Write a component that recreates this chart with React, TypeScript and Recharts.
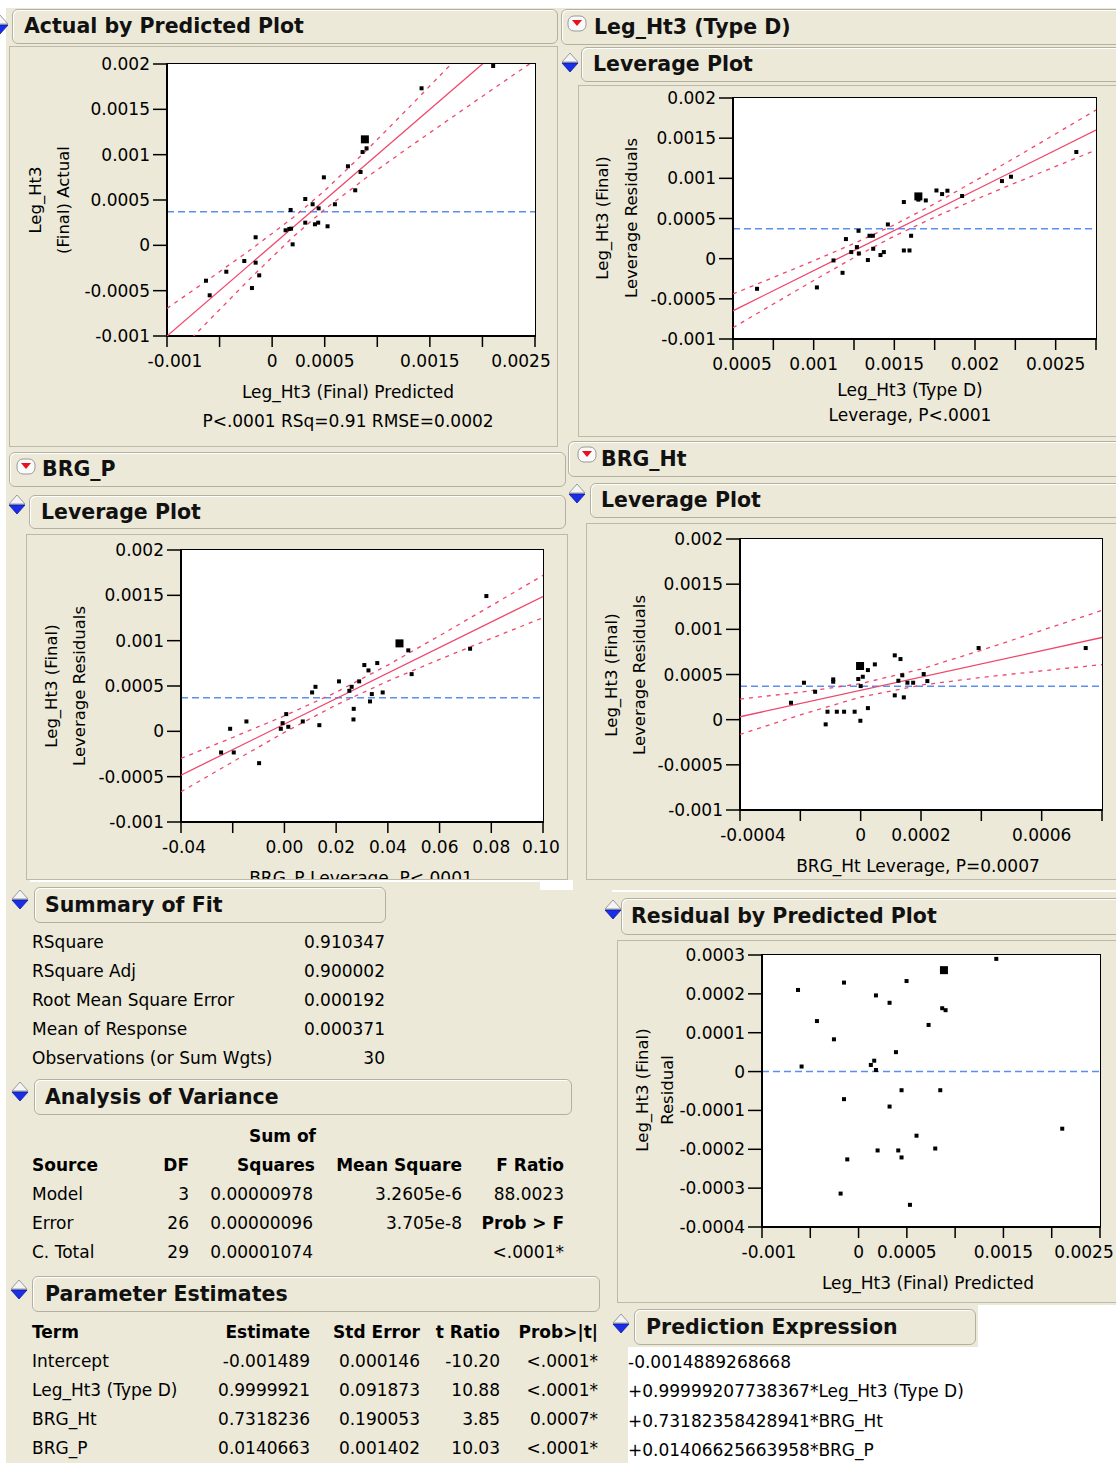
import React from 'react';
import { ScatterChart, Scatter, XAxis, YAxis, ReferenceLine } from 'recharts';

const BEIGE = '#ECE9D8';
const RED = '#f0466a';
const BLUE = '#5a8ef0';
const FONT = '"DejaVu Sans", Verdana, sans-serif';
const MEAN_RESPONSE = 0.000371;

// ---------- Actual by Predicted ----------
const actualPredPoints = [
  [0.002102, 0.001978], [0.001421, 0.001732], [0.00086, 0.001029], [0.000898, 0.00107],
  [0.000721, 0.000872], [0.000841, 0.000809], [0.00079, 0.000607], [0.000492, 0.00075],
  [0.000315, 0.000511], [0.000385, 0.000453], [0.000442, 0.000408], [0.000597, 0.000453],
  [0.000176, 0.00039], [0.000315, 0.00025], [0.000407, 0.000232], [0.000438, 0.00025],
  [0.000527, 0.00021], [0.000128, 0.000166], [0.000163, 0.00018], [0.00018, 0.000184],
  [0.000195, 0.000011], [-0.000157, 0.000089], [-0.000265, -0.000173], [-0.000157, -0.000191],
  [-0.000123, -0.000331], [-0.000192, -0.000471], [-0.000436, -0.000291], [-0.000629, -0.00039],
  [-0.000594, -0.000551],
];
const actualPredHighlight = [[0.000882, 0.001169]];
const actualPredFit = [[-0.001, -0.001], [0.0025, 0.0025]];
const actualPredBandX = [-0.001, -0.0006, -0.0002, 0.0002, 0.0005, 0.0009, 0.0013, 0.0017, 0.0021, 0.0025];
const actualPredUpper = [-0.000696, -0.000373, -0.000044, 0.000306, 0.000603, 0.00105, 0.001519, 0.001997, 0.002476, 0.002958];
const actualPredLower = [-0.001304, -0.000827, -0.000356, 0.000094, 0.000397, 0.00075, 0.001081, 0.001403, 0.001724, 0.002042];

// ---------- Leg_Ht3 (Type D) leverage ----------
const typeDPoints = [
  [0.000649, -0.000375], [0.00102, -0.000358], [0.001123, -0.000022], [0.001179, -0.000176],
  [0.0012, 0.000244], [0.001233, 0.000082], [0.001268, 0.000144], [0.001278, 0.000347],
  [0.00128, 0.000065], [0.001336, -0.000017], [0.001346, 0.000285], [0.001367, 0.000285],
  [0.001369, 0.000123], [0.001414, 0.000045], [0.001435, 0.000082], [0.00146, 0.000426],
  [0.001559, 0.000705], [0.001559, 0.000102], [0.001594, 0.000102], [0.001604, 0.000285],
  [0.001649, 0.000735], [0.001695, 0.000725], [0.001761, 0.000849], [0.001796, 0.000804],
  [0.001829, 0.000846], [0.00192, 0.00078], [0.002167, 0.000966], [0.002223, 0.00102],
  [0.002628, 0.001328],
];
const typeDHighlight = [[0.001649, 0.000775]];
const typeDFit = [[0.0005, -0.000649], [0.00275, 0.001601]];
const typeDBandX = [0.0005, 0.00075, 0.001, 0.00125, 0.0015, 0.00175, 0.002, 0.00225, 0.0025, 0.00275];
const typeDUpper = [-0.000439, -0.000234, -0.000026, 0.000189, 0.000421, 0.000684, 0.000968, 0.001259, 0.001554, 0.00185];
const typeDLower = [-0.000859, -0.000564, -0.000272, 0.000014, 0.000281, 0.000518, 0.000734, 0.000943, 0.001148, 0.001352];

// ---------- BRG_P leverage ----------
const brgPPoints = [
  [-0.0245, -0.000233], [-0.0196, -0.000233], [-0.021, 0.000028], [-0.0147, 0.000109],
  [-0.0098, -0.000351], [-0.0014, 0.000028], [-0.0007, 0.00009], [0.0007, 0.00019],
  [0.0015, 0.00005], [0.0071, 0.000109], [0.0107, 0.000429], [0.012, 0.000491],
  [0.0135, 0.000068], [0.0211, 0.000551], [0.0251, 0.000447], [0.026, 0.000491],
  [0.0268, 0.000248], [0.0267, 0.000131], [0.0289, 0.000551], [0.0309, 0.000731],
  [0.0325, 0.000672], [0.0338, 0.000411], [0.0331, 0.00033], [0.0359, 0.000753],
  [0.038, 0.000429], [0.0479, 0.000893], [0.0492, 0.000631], [0.0718, 0.000911],
  [0.0781, 0.001492],
];
const brgPHighlight = [[0.0445, 0.00097]];
const brgPFit = [[-0.04, -0.000483], [0.1, 0.001487]];
const brgPBandX = [-0.04, -0.02, 0, 0.02, 0.04, 0.06, 0.08, 0.1];
const brgPUpper = [-0.000299, -0.000068, 0.000171, 0.000431, 0.000731, 0.001055, 0.001386, 0.00172];
const brgPLower = [-0.000667, -0.000336, -0.000011, 0.000291, 0.000554, 0.000793, 0.001025, 0.001254];

// ---------- BRG_Ht leverage ----------
const brgHtPoints = [
  [-0.000231, 0.000187], [-0.000188, 0.000409], [-0.000151, 0.000309], [-0.000116, -0.000052],
  [-0.00011, 0.000088], [-0.000091, 0.000446], [-0.000091, 0.00042], [-0.000079, 0.000088],
  [-0.000055, 0.000088], [-0.00002, 0.000088], [-0.000008, 0.00045], [0.0, 0.000372],
  [-0.000001, -0.000012], [0.000007, 0.000475], [0.000024, 0.000549], [0.000024, 0.000128],
  [0.000047, 0.000612], [0.000113, 0.000712], [0.000132, 0.000671], [0.000113, 0.000269],
  [0.000138, 0.000491], [0.000125, 0.000431], [0.000143, 0.000247], [0.000155, 0.000409],
  [0.000174, 0.000409], [0.000209, 0.000505], [0.000221, 0.000427], [0.000391, 0.000793],
  [0.000746, 0.000793],
];
const brgHtHighlight = [[-0.000002, 0.000594]];
const brgHtFit = [[-0.0004, 0.0000322], [0.0008, 0.00091]];
const brgHtBandX = [-0.0004, -0.0002, 0, 0.0002, 0.0004, 0.0006, 0.0008];
const brgHtUpper = [0.000228, 0.000304, 0.000399, 0.00056, 0.000768, 0.000988, 0.00121];
const brgHtLower = [-0.000164, 0.000053, 0.000251, 0.000383, 0.000467, 0.00054, 0.00061];

// ---------- Residual by Predicted ----------
const residualPoints = [
  [-0.000627, 0.00021], [-0.00059, 0.000013], [-0.000431, 0.00013], [-0.000255, 0.000083],
  [-0.000151, 0.000229], [-0.000151, -0.000071], [-0.000186, -0.000314], [-0.000117, -0.000226],
  [0.000127, 0.000017], [0.000162, 0.000028], [0.00018, 0.000004], [0.00018, 0.000196],
  [0.000197, -0.000203], [0.000321, 0.000177], [0.000321, -0.00009], [0.000387, 0.00005],
  [0.000411, -0.000203], [0.000445, -0.000048], [0.000445, -0.000221], [0.000497, 0.000233],
  [0.000532, -0.000343], [0.0006, -0.000165], [0.000725, 0.00012], [0.000794, -0.000198],
  [0.000846, -0.000048], [0.000866, 0.000163], [0.000901, 0.000158], [0.001426, 0.00029],
  [0.002109, -0.000147],
];
const residualHighlight = [[0.000884, 0.000261]];

// ---------- ticks ----------
const predXTicks = [-0.001, -0.0005, 0, 0.0005, 0.001, 0.0015, 0.002, 0.0025];
const predXLabels = ['-0.001', '', '0', '0.0005', '', '0.0015', '', '0.0025'];
const respYTicks = [-0.001, -0.0005, 0, 0.0005, 0.001, 0.0015, 0.002];
const respYLabels = ['-0.001', '-0.0005', '0', '0.0005', '0.001', '0.0015', '0.002'];
const typeDXTicks = [0.0005, 0.00075, 0.001, 0.00125, 0.0015, 0.00175, 0.002, 0.00225, 0.0025, 0.00275];
const typeDXLabels = ['0.0005', '', '0.001', '', '0.0015', '', '0.002', '', '0.0025', ''];
const brgPXTicks = [-0.04, -0.02, 0, 0.02, 0.04, 0.06, 0.08, 0.1];
const brgPXLabels = ['-0.04', '', '0.00', '0.02', '0.04', '0.06', '0.08', '0.10'];
const brgHtXTicks = [-0.0004, -0.0002, 0, 0.0002, 0.0004, 0.0006, 0.0008];
const brgHtXLabels = ['-0.0004', '', '0', '0.0002', '', '0.0006', ''];
const residYTicks = [-0.0004, -0.0003, -0.0002, -0.0001, 0, 0.0001, 0.0002, 0.0003];
const residYLabels = ['-0.0004', '-0.0003', '-0.0002', '-0.0001', '0', '0.0001', '0.0002', '0.0003'];

// ---------- tables ----------
const summaryLabels = ['RSquare', 'RSquare Adj', 'Root Mean Square Error', 'Mean of Response', 'Observations (or Sum Wgts)'];
const summaryValues = ['0.910347', '0.900002', '0.000192', '0.000371', '30'];
const anovaSources = ['Model', 'Error', 'C. Total'];
const anovaDF = ['3', '26', '29'];
const anovaSS = ['0.00000978', '0.00000096', '0.00001074'];
const anovaMS = ['3.2605e-6', '3.705e-8', ''];
const anovaF = ['88.0023', 'Prob > F', '<.0001*'];
const paramTerms = ['Intercept', 'Leg_Ht3 (Type D)', 'BRG_Ht', 'BRG_P'];
const paramEstimate = ['-0.001489', '0.9999921', '0.7318236', '0.0140663'];
const paramStdErr = ['0.000146', '0.091873', '0.190053', '0.001402'];
const paramTRatio = ['-10.20', '10.88', '3.85', '10.03'];
const paramProb = ['<.0001*', '<.0001*', '0.0007*', '<.0001*'];
const predictionLines = ['-0.0014889268668', '+0.99999207738367*Leg_Ht3 (Type D)', '+0.73182358428941*BRG_Ht', '+0.01406625663958*BRG_P'];

const toPts = (a: number[][]) => a.map(([x, y]) => ({ x, y }));
const zipPts = (xs: number[], ys: number[]) => xs.map((x, i) => ({ x, y: ys[i] }));

const findIdx = (ticks: number[], v: number) => ticks.findIndex((t) => Math.abs(t - v) < 1e-12);

const makeXTick = (ticks: number[], labels: string[], shift: number, lastShift: number) => (p: any) => {
  const i = findIdx(ticks, p.payload.value);
  const dx = i === 0 ? shift : i === ticks.length - 1 ? lastShift : 0;
  return (
    <text x={p.x + dx} y={p.y} dy="0.71em" textAnchor="middle" fontFamily={FONT} fontSize={17} fill="#000">
      {i >= 0 ? labels[i] : ''}
    </text>
  );
};
const makeYTick = (ticks: number[], labels: string[]) => (p: any) => {
  const i = findIdx(ticks, p.payload.value);
  return (
    <text x={p.x} y={p.y} dy="0.355em" textAnchor="end" fontFamily={FONT} fontSize={17} fill="#000">
      {i >= 0 ? labels[i] : ''}
    </text>
  );
};

const dot = (p: any) => <rect x={p.cx - 2} y={p.cy - 2} width={4} height={4} fill="#000" />;
const bigDot = (p: any) => <rect x={p.cx - 4} y={p.cy - 4} width={8} height={8} fill="#000" />;
const noDot = () => <g />;

function Plot(props: any) {
  const { L, T, W, H, xDomain, yDomain, xTicks, xLabels, yTicks, yLabels, points, highlight, fit, upper, lower, refY, shift, lastShift = 0 } = props;
  const YW = 130, XH = 40, PAD = 10, RPAD = 40;
  return (
    <>
      <div style={{ position: 'absolute', left: L - 1, top: T - 1, width: W + 2, height: H + 2, boxSizing: 'border-box', background: '#fff', border: '1.5px solid #000' }} />
      <div style={{ position: 'absolute', left: L - YW, top: T - PAD }}>
        <ScatterChart width={W + YW + RPAD} height={H + PAD + XH} margin={{ top: PAD, right: RPAD, bottom: 0, left: 0 }}>
          <XAxis type="number" dataKey="x" domain={xDomain} ticks={xTicks} interval={0} allowDataOverflow height={XH}
            tickSize={11} tickMargin={8} axisLine={{ stroke: '#000', strokeWidth: 2 }} tickLine={{ stroke: '#000', strokeWidth: 1.5 }}
            tick={makeXTick(xTicks, xLabels, shift, lastShift)} />
          <YAxis type="number" dataKey="y" domain={yDomain} ticks={yTicks} interval={0} allowDataOverflow width={YW}
            tickSize={14} tickMargin={3} axisLine={{ stroke: '#000', strokeWidth: 2 }} tickLine={{ stroke: '#000', strokeWidth: 1.5 }}
            tick={makeYTick(yTicks, yLabels)} />
          <ReferenceLine y={refY} stroke={BLUE} strokeWidth={1.5} strokeDasharray="7 4" />
          {fit && <Scatter data={fit} line={{ stroke: RED, strokeWidth: 1.3 }} shape={noDot} isAnimationActive={false} />}
          {upper && <Scatter data={upper} line={{ stroke: RED, strokeWidth: 1.3, strokeDasharray: '4 5' }} shape={noDot} isAnimationActive={false} />}
          {lower && <Scatter data={lower} line={{ stroke: RED, strokeWidth: 1.3, strokeDasharray: '4 5' }} shape={noDot} isAnimationActive={false} />}
          <Scatter data={points} shape={dot} isAnimationActive={false} />
          <Scatter data={highlight} shape={bigDot} isAnimationActive={false} />
        </ScatterChart>
      </div>
    </>
  );
}

function Txt({ x, y, text, align = 'left', bold = false, size = 17 }: any) {
  const w = 600;
  const left = align === 'left' ? x : align === 'right' ? x - w : x - w / 2;
  return (
    <div style={{ position: 'absolute', left, top: y - 12, width: w, height: 24, lineHeight: '24px', textAlign: align, fontFamily: FONT, fontSize: size, fontWeight: bold ? 'bold' : 'normal', color: '#000', whiteSpace: 'nowrap' }}>
      {text}
    </div>
  );
}

function VTxt({ x, y, text, size = 16.5 }: any) {
  return (
    <div style={{ position: 'absolute', left: x, top: y, transform: 'translate(-50%, -50%) rotate(-90deg)', fontFamily: FONT, fontSize: size, color: '#000', whiteSpace: 'nowrap', lineHeight: '20px' }}>
      {text}
    </div>
  );
}

function BlueIcon({ x, y }: any) {
  return (
    <svg style={{ position: 'absolute', left: x, top: y }} width={18} height={22}>
      <polygon points="9,1 1,10 17,10" fill="#f4f4f4" stroke="#9a9a9a" strokeWidth={1} />
      <polygon points="1,11 17,11 9,20" fill="#1a2ee8" stroke="#0a1aa0" strokeWidth={0.8} />
    </svg>
  );
}

function RedIcon({ x, y }: any) {
  return (
    <svg style={{ position: 'absolute', left: x, top: y }} width={20} height={18}>
      <rect x={1} y={1} width={18} height={15} rx={6} fill="#fafafa" stroke="#9a9a9a" />
      <polygon points="5,5 15,5 10,11" fill="#e8101a" />
    </svg>
  );
}

function Header({ x, y, w, h, text, tx }: any) {
  return (
    <div style={{ position: 'absolute', left: x, top: y, width: w, height: h, boxSizing: 'border-box', border: '1px solid #b4b0a0', borderRadius: 6, background: BEIGE, boxShadow: 'inset 1px 1px 0 #fff' }}>
      <span style={{ position: 'absolute', left: tx - x, top: 0, lineHeight: `${h - 2}px`, fontFamily: FONT, fontSize: 20.5, fontWeight: 'bold', color: '#111', whiteSpace: 'nowrap' }}>
        {text}
      </span>
    </div>
  );
}

function Frame({ x, y, w, h, children, clip = false }: any) {
  return (
    <div style={{ position: 'absolute', left: x, top: y, width: w, height: h, boxSizing: 'border-box', border: '1px solid #bdb9a9', overflow: clip ? 'hidden' : 'visible' }}>
      {children}
    </div>
  );
}

function White({ x, y, w, h }: any) {
  return <div style={{ position: 'absolute', left: x, top: y, width: w, height: h, background: '#fff' }} />;
}

export default function App() {
  const rowY = [942, 971, 1000, 1029, 1058];
  const anovaY = [1194, 1223, 1252];
  const paramY = [1361, 1390, 1419, 1448];
  const predY = [1362, 1391, 1421, 1450];
  return (
    <div style={{ position: 'absolute', left: 0, top: 0, width: 1116, height: 1463, background: BEIGE, overflow: 'hidden', fontFamily: FONT }}>
      <White x={0} y={0} w={1116} h={8} />
      <White x={0} y={0} w={6} h={1463} />
      <White x={628} y={1347} w={488} h={116} />
      <White x={978} y={1305} w={138} h={42} />
      <White x={30} y={880} w={542} h={2} />
      <White x={540} y={880} w={33} h={10} />
      <White x={612} y={890} w={504} h={2} />

      {/* Actual by Predicted */}
      <BlueIcon x={-9} y={14} />
      <Header x={12} y={9} w={546} h={35} text="Actual by Predicted Plot" tx={23} />
      <Frame x={9} y={46} w={549} h={401} />
      <Plot L={167} T={64} W={368} H={272} xDomain={[-0.001, 0.0025]} yDomain={[-0.001, 0.002]}
        xTicks={predXTicks} xLabels={predXLabels} yTicks={respYTicks} yLabels={respYLabels}
        points={toPts(actualPredPoints)} highlight={toPts(actualPredHighlight)} fit={toPts(actualPredFit)}
        upper={zipPts(actualPredBandX, actualPredUpper)} lower={zipPts(actualPredBandX, actualPredLower)} refY={MEAN_RESPONSE} shift={8} lastShift={-14} />
      <VTxt x={36} y={200} text="Leg_Ht3" />
      <VTxt x={64} y={200} text="(Final) Actual" />
      <Txt x={348} y={392} text="Leg_Ht3 (Final) Predicted" align="center" />
      <Txt x={348} y={421} text="P<.0001 RSq=0.91 RMSE=0.0002" align="center" />

      {/* Leg_Ht3 (Type D) */}
      <Header x={561} y={9} w={570} h={36} text="Leg_Ht3 (Type D)" tx={593} />
      <RedIcon x={567} y={15} />
      <BlueIcon x={561} y={52} />
      <Header x={581} y={47} w={550} h={35} text="Leverage Plot" tx={592} />
      <Frame x={578} y={85} w={545} h={352} />
      <Plot L={733} T={98} W={363} H={241} xDomain={[0.0005, 0.00275]} yDomain={[-0.001, 0.002]}
        xTicks={typeDXTicks} xLabels={typeDXLabels} yTicks={respYTicks} yLabels={respYLabels}
        points={toPts(typeDPoints)} highlight={toPts(typeDHighlight)} fit={toPts(typeDFit)}
        upper={zipPts(typeDBandX, typeDUpper)} lower={zipPts(typeDBandX, typeDLower)} refY={MEAN_RESPONSE} shift={9} />
      <VTxt x={603} y={218} text="Leg_Ht3 (Final)" />
      <VTxt x={632} y={218} text="Leverage Residuals" />
      <Txt x={910} y={390} text="Leg_Ht3 (Type D)" align="center" />
      <Txt x={910} y={415} text="Leverage, P<.0001" align="center" />

      {/* BRG_P */}
      <Header x={9} y={452} w={557} h={35} text="BRG_P" tx={41} />
      <RedIcon x={16} y={458} />
      <BlueIcon x={8} y={494} />
      <Header x={29} y={495} w={537} h={34} text="Leverage Plot" tx={40} />
      <Frame x={26} y={534} w={542} h={346} clip>
        <Txt x={334} y={343} text="BRG_P Leverage, P<.0001" align="center" />
      </Frame>
      <Plot L={181} T={550} W={362} H={272} xDomain={[-0.04, 0.1]} yDomain={[-0.001, 0.002]}
        xTicks={brgPXTicks} xLabels={brgPXLabels} yTicks={respYTicks} yLabels={respYLabels}
        points={toPts(brgPPoints)} highlight={toPts(brgPHighlight)} fit={toPts(brgPFit)}
        upper={zipPts(brgPBandX, brgPUpper)} lower={zipPts(brgPBandX, brgPLower)} refY={MEAN_RESPONSE} shift={3} lastShift={-2} />
      <VTxt x={52} y={686} text="Leg_Ht3 (Final)" />
      <VTxt x={80} y={686} text="Leverage Residuals" />

      {/* BRG_Ht */}
      <Header x={568} y={441} w={560} h={36} text="BRG_Ht" tx={600} />
      <RedIcon x={577} y={446} />
      <BlueIcon x={568} y={483} />
      <Header x={590} y={483} w={540} h={35} text="Leverage Plot" tx={600} />
      <Frame x={586} y={523} w={540} h={357} />
      <Plot L={740} T={539} W={362} H={271} xDomain={[-0.0004, 0.0008]} yDomain={[-0.001, 0.002]}
        xTicks={brgHtXTicks} xLabels={brgHtXLabels} yTicks={respYTicks} yLabels={respYLabels}
        points={toPts(brgHtPoints)} highlight={toPts(brgHtHighlight)} fit={toPts(brgHtFit)}
        upper={zipPts(brgHtBandX, brgHtUpper)} lower={zipPts(brgHtBandX, brgHtLower)} refY={MEAN_RESPONSE} shift={13} />
      <VTxt x={612} y={675} text="Leg_Ht3 (Final)" />
      <VTxt x={640} y={675} text="Leverage Residuals" />
      <Txt x={918} y={866} text="BRG_Ht Leverage, P=0.0007" align="center" />

      {/* Summary of Fit */}
      <BlueIcon x={11} y={889} />
      <Header x={34} y={887} w={352} h={36} text="Summary of Fit" tx={44} />
      {summaryLabels.map((s, i) => <Txt key={'sl' + i} x={32} y={rowY[i]} text={s} />)}
      {summaryValues.map((s, i) => <Txt key={'sv' + i} x={385} y={rowY[i]} text={s} align="right" />)}

      {/* Analysis of Variance */}
      <BlueIcon x={11} y={1081} />
      <Header x={34} y={1079} w={538} h={36} text="Analysis of Variance" tx={44} />
      <Txt x={316} y={1136} text="Sum of" align="right" bold />
      <Txt x={32} y={1165} text="Source" bold />
      <Txt x={189} y={1165} text="DF" align="right" bold />
      <Txt x={315} y={1165} text="Squares" align="right" bold />
      <Txt x={462} y={1165} text="Mean Square" align="right" bold />
      <Txt x={564} y={1165} text="F Ratio" align="right" bold />
      {anovaSources.map((s, i) => <Txt key={'as' + i} x={32} y={anovaY[i]} text={s} />)}
      {anovaDF.map((s, i) => <Txt key={'ad' + i} x={189} y={anovaY[i]} text={s} align="right" />)}
      {anovaSS.map((s, i) => <Txt key={'ass' + i} x={313} y={anovaY[i]} text={s} align="right" />)}
      {anovaMS.map((s, i) => <Txt key={'am' + i} x={462} y={anovaY[i]} text={s} align="right" />)}
      {anovaF.map((s, i) => <Txt key={'af' + i} x={564} y={anovaY[i]} text={s} align="right" bold={i === 1} />)}

      {/* Parameter Estimates */}
      <BlueIcon x={10} y={1279} />
      <Header x={32} y={1276} w={568} h={36} text="Parameter Estimates" tx={44} />
      <Txt x={32} y={1332} text="Term" bold />
      <Txt x={310} y={1332} text="Estimate" align="right" bold />
      <Txt x={420} y={1332} text="Std Error" align="right" bold />
      <Txt x={500} y={1332} text="t Ratio" align="right" bold />
      <Txt x={598} y={1332} text="Prob>|t|" align="right" bold />
      {paramTerms.map((s, i) => <Txt key={'pt' + i} x={32} y={paramY[i]} text={s} />)}
      {paramEstimate.map((s, i) => <Txt key={'pe' + i} x={310} y={paramY[i]} text={s} align="right" />)}
      {paramStdErr.map((s, i) => <Txt key={'ps' + i} x={420} y={paramY[i]} text={s} align="right" />)}
      {paramTRatio.map((s, i) => <Txt key={'pr' + i} x={500} y={paramY[i]} text={s} align="right" />)}
      {paramProb.map((s, i) => <Txt key={'pp' + i} x={598} y={paramY[i]} text={s} align="right" />)}

      {/* Residual by Predicted */}
      <BlueIcon x={604} y={899} />
      <Header x={621} y={898} w={510} h={37} text="Residual by Predicted Plot" tx={630} />
      <Frame x={617} y={940} w={510} h={363} />
      <Plot L={762} T={955} W={338} H={272} xDomain={[-0.001, 0.0025]} yDomain={[-0.0004, 0.0003]}
        xTicks={predXTicks} xLabels={predXLabels} yTicks={residYTicks} yLabels={residYLabels}
        points={toPts(residualPoints)} highlight={toPts(residualHighlight)} fit={null} upper={null} lower={null} refY={0} shift={7} lastShift={-16} />
      <VTxt x={643} y={1090} text="Leg_Ht3 (Final)" />
      <VTxt x={668} y={1090} text="Residual" />
      <Txt x={928} y={1283} text="Leg_Ht3 (Final) Predicted" align="center" />

      {/* Prediction Expression */}
      <BlueIcon x={612} y={1313} />
      <Header x={634} y={1309} w={342} h={36} text="Prediction Expression" tx={645} />
      {predictionLines.map((s, i) => <Txt key={'pl' + i} x={628} y={predY[i]} text={s} />)}
    </div>
  );
}
